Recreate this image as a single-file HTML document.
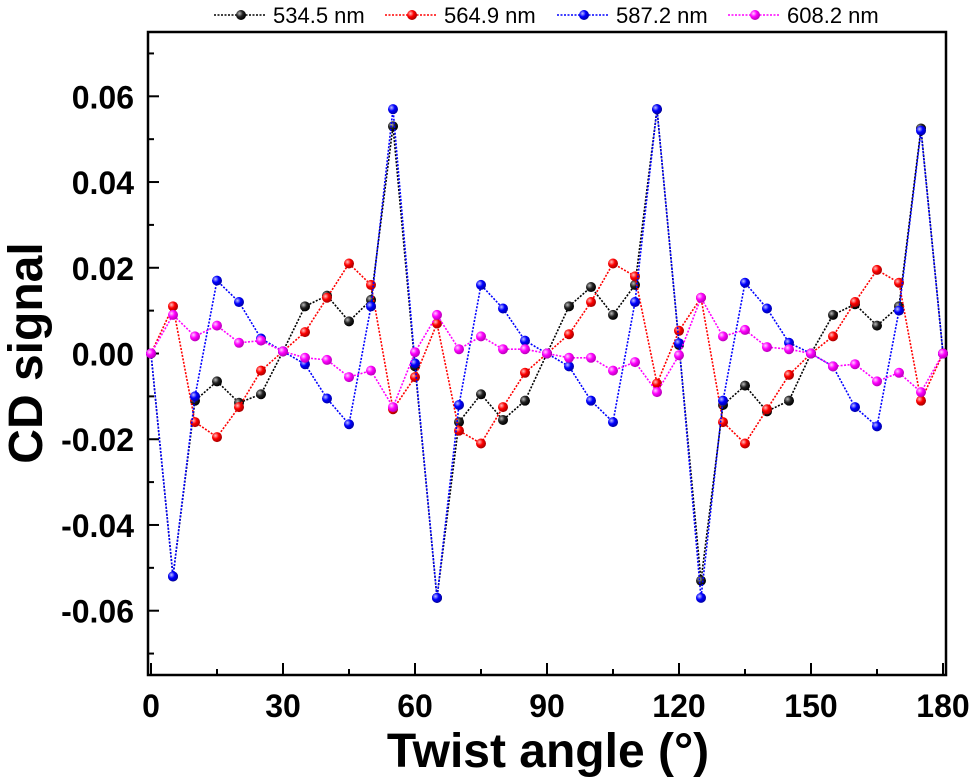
<!DOCTYPE html>
<html><head><meta charset="utf-8"><style>
body{margin:0;background:#fff;}
svg{display:block;font-family:"Liberation Sans",Arial,sans-serif;}
</style></head><body>
<svg id="chart" width="974" height="783">
<defs>
<radialGradient id="gk" cx="35%" cy="35%" r="65%"><stop offset="0" stop-color="#bbb"/><stop offset="0.5" stop-color="#222"/><stop offset="1" stop-color="#000"/></radialGradient>
<radialGradient id="gr" cx="35%" cy="35%" r="65%"><stop offset="0" stop-color="#ffc0c0"/><stop offset="0.5" stop-color="#f00"/><stop offset="1" stop-color="#a00"/></radialGradient>
<radialGradient id="gb" cx="35%" cy="35%" r="65%"><stop offset="0" stop-color="#c0c0ff"/><stop offset="0.5" stop-color="#00f"/><stop offset="1" stop-color="#00a"/></radialGradient>
<radialGradient id="gm" cx="35%" cy="35%" r="65%"><stop offset="0" stop-color="#ffd0ff"/><stop offset="0.5" stop-color="#f0f"/><stop offset="1" stop-color="#b0b"/></radialGradient>
</defs>
<g id="plot"></g>
</svg>
<script>
const angles=[0,5,10,15,20,25,30,35,40,45,50,55,60,65,70,75,80,85,90,95,100,105,110,115,120,125,130,135,140,145,150,155,160,165,170,175,180];
const s534=[0,-0.052,-0.011,-0.0065,-0.0115,-0.0095,0.0005,0.011,0.0135,0.0075,0.0125,0.053,-0.003,-0.057,-0.016,-0.0095,-0.0155,-0.011,0,0.011,0.0155,0.009,0.016,0.057,0.002,-0.053,-0.012,-0.0075,-0.0135,-0.011,0,0.009,0.0115,0.0065,0.011,0.0525,0];
const s564=[0,0.011,-0.016,-0.0195,-0.0125,-0.004,0.0005,0.005,0.013,0.021,0.016,-0.013,-0.0055,0.007,-0.018,-0.021,-0.0125,-0.0045,0,0.0045,0.012,0.021,0.018,-0.007,0.0053,0.013,-0.016,-0.021,-0.013,-0.005,0,0.004,0.012,0.0195,0.0165,-0.011,0];
const s587=[0,-0.052,-0.010,0.017,0.012,0.0035,0.0005,-0.0025,-0.0105,-0.0165,0.011,0.057,-0.0023,-0.057,-0.012,0.016,0.0105,0.003,0,-0.003,-0.011,-0.016,0.012,0.057,0.0024,-0.057,-0.011,0.0165,0.0105,0.0025,0,-0.003,-0.0125,-0.017,0.010,0.052,0];
const s608=[0,0.009,0.004,0.0065,0.0025,0.003,0.0005,-0.001,-0.0015,-0.0055,-0.004,-0.0125,0.0003,0.009,0.001,0.004,0.001,0.001,0,-0.001,-0.001,-0.004,-0.002,-0.009,-0.0004,0.013,0.004,0.0055,0.0015,0.001,0,-0.003,-0.0025,-0.0065,-0.0045,-0.009,0];
const seriesNames=["534.5 nm","564.9 nm","587.2 nm","608.2 nm"];
const yTicks=[-0.06,-0.04,-0.02,0.00,0.02,0.04,0.06];
const yTickLabels=["-0.06","-0.04","-0.02","0.00","0.02","0.04","0.06"];
const xTicks=[0,30,60,90,120,150,180];

const NS="http://www.w3.org/2000/svg";
const L=148,R=946,T=32,B=675;
const x=a=>151+a*(943-151)/180;
const y=v=>353.5-v*(B-T)/0.15;
const g=document.getElementById('plot');
function el(t,a,p){const e=document.createElementNS(NS,t);for(const k in a)e.setAttribute(k,a[k]);(p||g).appendChild(e);return e;}

const fr=el('rect',{x:L,y:T,width:R-L,height:B-T,fill:'none',stroke:'#000','stroke-width':2.5});


for(let v=-0.07;v<=0.0701;v+=0.01){
  const major=Math.abs(Math.round(v*100))%2===0;
  const t=el('line',{x1:L,x2:L+(major?11:6),y1:y(v),y2:y(v),stroke:'#000','stroke-width':2});
  
  
}
yTicks.forEach((v,i)=>{
  const t=el('text',{x:134,y:y(v)+12,'text-anchor':'end','font-size':32,'font-weight':'bold'});
  t.textContent=yTickLabels[i];
  
  
});
for(let a=0;a<=180;a+=15){
  const major=a%30===0;
  const t=el('line',{x1:x(a),x2:x(a),y1:B,y2:B-(major?12:6),stroke:'#000','stroke-width':2});
  
  
}
xTicks.forEach(a=>{
  const t=el('text',{x:x(a),y:717,'text-anchor':'middle','font-size':32,'font-weight':'bold'});
  t.textContent=String(a);
  
  
});
const xt=el('text',{x:548,y:767,'text-anchor':'middle','font-size':48,'font-weight':'bold'});
xt.textContent='Twist angle (°)';


const yt=el('text',{x:0,y:0,'text-anchor':'middle','font-size':48,'font-weight':'bold',transform:'translate(42,353) rotate(-90)'});
yt.textContent='CD signal';



const colors=['#000','#f00','#00f','#f0f'];
const grads=['url(#gk)','url(#gr)','url(#gb)','url(#gm)'];
const data=[s534,s564,s587,s608];
data.forEach((s,k)=>{
  const sg=el('g',{});
  
  
  const pl=el('polyline',{points:s.map((v,i)=>x(angles[i])+','+y(v)).join(' '),fill:'none',stroke:colors[k],'stroke-width':1.6,'stroke-dasharray':'2,1.5'},sg);
  
  
  s.forEach((v,i)=>{
    const c=el('circle',{cx:x(angles[i]),cy:y(v),r:5,fill:grads[k]},sg);
    
    
  });
});
const lx=[214,385,557,728];
seriesNames.forEach((n,k)=>{
  const lg=el('g',{});
  
  
  el('line',{x1:lx[k],x2:lx[k]+51,y1:15,y2:15,stroke:colors[k],'stroke-width':1.6,'stroke-dasharray':'2,1.5'},lg);
  el('circle',{cx:lx[k]+27,cy:15,r:5,fill:grads[k]},lg);
  const t=el('text',{x:lx[k]+59,y:23,'font-size':22},lg);
  t.textContent=n;
});
</script>
</body></html>
